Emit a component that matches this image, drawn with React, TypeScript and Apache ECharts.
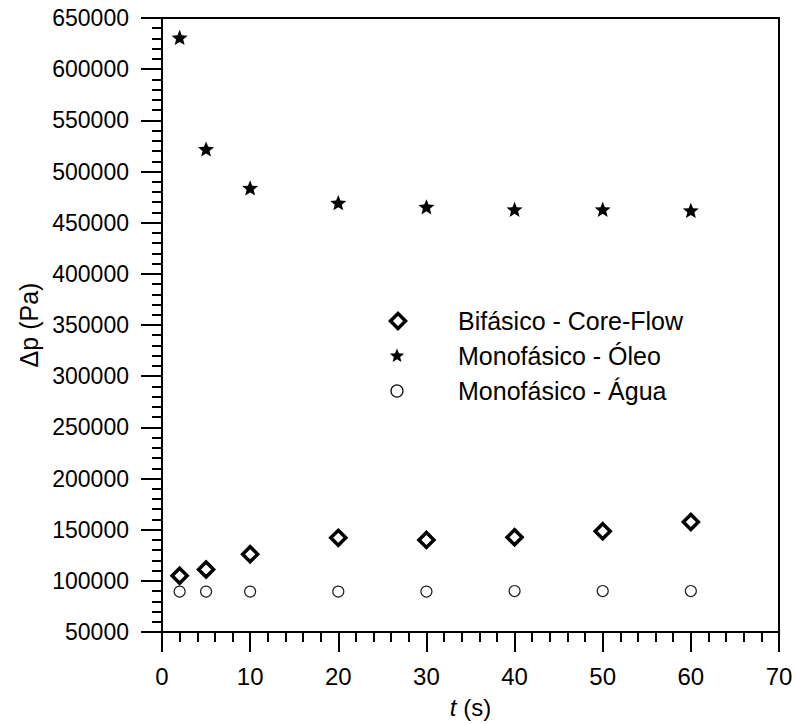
import React, { useEffect, useRef } from "react";
import * as echarts from "echarts";

// ---- data ----
const tValues = [2, 5, 10, 20, 30, 40, 50, 60];
const coreFlow = [105000, 111000, 126000, 142000, 140000, 142500, 148500, 157500];
const oleo = [631000, 522000, 484000, 469500, 465500, 463000, 463000, 462000];
const agua = [89500, 89500, 89500, 89500, 89500, 90000, 90000, 90000];
const seriesNames = ["Bifásico - Core-Flow", "Monofásico - Óleo", "Monofásico - Água"];
const xTickLabels = ["0", "10", "20", "30", "40", "50", "60", "70"];

const STAR_PATH =
  "path://M50 0 L62.93 32.2 L97.55 34.55 L70.92 56.8 L79.39 90.45 L50 72 L20.61 90.45 L29.08 56.8 L2.45 34.55 L37.07 32.2 Z";

const FONT = "'Liberation Sans', Arial, Helvetica, sans-serif";

function starPoints(cx: number, cy: number, R: number, r: number) {
  const pts: number[][] = [];
  for (let i = 0; i < 10; i++) {
    const ang = -Math.PI / 2 + (i * Math.PI) / 5;
    const rad = i % 2 === 0 ? R : r;
    pts.push([cx + rad * Math.cos(ang), cy + rad * Math.sin(ang)]);
  }
  return pts;
}

export default function App() {
  const ref = useRef<HTMLDivElement>(null);
  useEffect(() => {
    if (!ref.current) return;
    const chart = echarts.init(ref.current, null, { renderer: "svg" });
    const pair = (ys: number[]) => tValues.map((t, i) => [t, ys[i]]);

    const legendRows = [321, 356, 391];
    const iconX = 397;
    const textX = 458;

    const option: any = {
      animation: false,
      backgroundColor: "#fff",
      grid: {
        left: 162,
        top: 18,
        right: 17,
        bottom: 88,
        show: true,
        borderColor: "#000",
        borderWidth: 2,
        backgroundColor: "transparent",
      },
      xAxis: {
        type: "value",
        min: 0,
        max: 70,
        interval: 10,
        name: "{i|t} (s)",
        nameLocation: "middle",
        nameGap: 63,
        nameTextStyle: {
          fontFamily: FONT,
          fontSize: 24,
          color: "#000",
          rich: { i: { fontStyle: "italic", fontFamily: FONT, fontSize: 24, color: "#000" } },
        },
        axisLine: { show: true, onZero: false, lineStyle: { color: "#000", width: 2 } },
        axisTick: { show: true, inside: false, length: 20, lineStyle: { color: "#000", width: 2 } },
        minorTick: { show: true, splitNumber: 5, length: 10, lineStyle: { color: "#000", width: 2 } },
        axisLabel: {
          fontFamily: FONT,
          fontSize: 24,
          color: "#000",
          margin: 32,
          formatter: (v: number) => xTickLabels[Math.round(v / 10)] ?? String(v),
        },
        splitLine: { show: false },
        minorSplitLine: { show: false },
      },
      yAxis: {
        type: "value",
        min: 50000,
        max: 650000,
        interval: 50000,
        name: "Δp (Pa)",
        nameLocation: "middle",
        nameGap: 120,
        nameTextStyle: { fontFamily: FONT, fontSize: 25, color: "#000" },
        axisLine: { show: true, onZero: false, lineStyle: { color: "#000", width: 2 } },
        axisTick: { show: true, inside: false, length: 21, lineStyle: { color: "#000", width: 2 } },
        minorTick: { show: true, splitNumber: 5, length: 10, lineStyle: { color: "#000", width: 2 } },
        axisLabel: {
          fontFamily: FONT,
          fontSize: 23,
          color: "#000",
          margin: 33,
          formatter: (v: number) => String(v),
        },
        splitLine: { show: false },
        minorSplitLine: { show: false },
      },
      series: [
        {
          name: seriesNames[0],
          type: "scatter",
          data: pair(coreFlow),
          symbol: "diamond",
          symbolSize: [15, 15],
          itemStyle: { color: "#fff", borderColor: "#000", borderWidth: 3.5, opacity: 1 },
          z: 3,
        },
        {
          name: seriesNames[1],
          type: "scatter",
          data: pair(oleo),
          symbol: STAR_PATH,
          symbolSize: 16,
          symbolKeepAspect: true,
          itemStyle: { color: "#000", opacity: 1 },
          z: 3,
        },
        {
          name: seriesNames[2],
          type: "scatter",
          data: pair(agua),
          symbol: "circle",
          symbolSize: 11,
          itemStyle: { color: "#fff", borderColor: "#222", borderWidth: 1.2, opacity: 1 },
          z: 2,
        },
      ],
      graphic: [
        {
          type: "polygon",
          shape: {
            points: [
              [iconX + 1, legendRows[0] - 7.5],
              [iconX + 8.5, legendRows[0]],
              [iconX + 1, legendRows[0] + 7.5],
              [iconX - 6.5, legendRows[0]],
            ],
          },
          style: { fill: "#fff", stroke: "#000", lineWidth: 3.5 },
        },
        {
          type: "polygon",
          shape: { points: starPoints(iconX, legendRows[1], 7.5, 3.3) },
          style: { fill: "#000" },
        },
        {
          type: "circle",
          shape: { cx: iconX, cy: legendRows[2], r: 6 },
          style: { fill: "#fff", stroke: "#111", lineWidth: 1.3 },
        },
        ...seriesNames.map((n, i) => ({
          type: "text",
          x: textX,
          y: legendRows[i],
          style: {
            text: n,
            fill: "#000",
            font: `25px ${FONT}`,
            textAlign: "left",
            textVerticalAlign: "middle",
          },
        })),
      ],
    };
    chart.setOption(option);
    return () => chart.dispose();
  }, []);

  return (
    <div
      ref={ref}
      style={{ position: "fixed", left: 0, top: 0, width: 796, height: 724, background: "#fff" }}
    />
  );
}
